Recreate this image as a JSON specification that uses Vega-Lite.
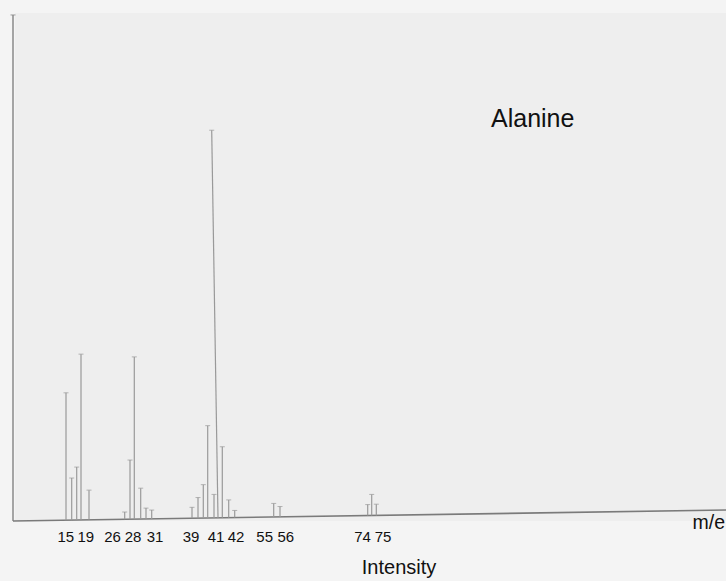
{
  "$schema": "https://vega.github.io/schema/vega-lite/v6.json",
  "autosize": {"type": "none"},
  "padding": {"left": 15, "top": 13, "right": 0, "bottom": 60},
  "width": 711,
  "height": 508,
  "background": "#f4f4f4",
  "config": {"view": {"fill": "#eeeeee", "stroke": null}, "font": "Liberation Sans"},
  "datasets": {
    "peaks": [
      {"pos_top": 51, "pos_base": 51, "top": 32.8, "base": 0.2},
      {"pos_top": 56.7, "pos_base": 56.7, "top": 11.0, "base": 0.22},
      {"pos_top": 61.7, "pos_base": 61.7, "top": 13.8, "base": 0.24},
      {"pos_top": 66, "pos_base": 66, "top": 42.7, "base": 0.26},
      {"pos_top": 74, "pos_base": 74, "top": 7.9, "base": 0.29},
      {"pos_top": 109.7, "pos_base": 109.7, "top": 2.3, "base": 0.43},
      {"pos_top": 115, "pos_base": 115, "top": 15.6, "base": 0.46},
      {"pos_top": 119.3, "pos_base": 119.3, "top": 42.0, "base": 0.47},
      {"pos_top": 125.7, "pos_base": 125.7, "top": 8.4, "base": 0.5},
      {"pos_top": 131, "pos_base": 131, "top": 3.3, "base": 0.52},
      {"pos_top": 136.7, "pos_base": 136.7, "top": 2.8, "base": 0.54},
      {"pos_top": 177, "pos_base": 177, "top": 3.5, "base": 0.7},
      {"pos_top": 183, "pos_base": 183, "top": 6.0, "base": 0.72},
      {"pos_top": 188.3, "pos_base": 188.3, "top": 9.3, "base": 0.75},
      {"pos_top": 192.7, "pos_base": 192.7, "top": 24.4, "base": 0.76},
      {"pos_top": 196.7, "pos_base": 203, "top": 100, "base": 0.8},
      {"pos_top": 199, "pos_base": 199, "top": 6.8, "base": 0.79},
      {"pos_top": 207.3, "pos_base": 207.3, "top": 19.0, "base": 0.82},
      {"pos_top": 213.7, "pos_base": 213.7, "top": 5.4, "base": 0.85},
      {"pos_top": 219.7, "pos_base": 219.7, "top": 2.7, "base": 0.87},
      {"pos_top": 258.7, "pos_base": 258.7, "top": 4.5, "base": 1.02},
      {"pos_top": 265, "pos_base": 265, "top": 3.7, "base": 1.05},
      {"pos_top": 352.7, "pos_base": 352.7, "top": 4.2, "base": 1.4},
      {"pos_top": 356.7, "pos_base": 356.7, "top": 6.8, "base": 1.41},
      {"pos_top": 361.3, "pos_base": 361.3, "top": 4.3, "base": 1.43}
    ],
    "labels": [
      {"pos": 50.8, "label": "15"},
      {"pos": 70.8, "label": "19"},
      {"pos": 97.5, "label": "26"},
      {"pos": 118, "label": "28"},
      {"pos": 140, "label": "31"},
      {"pos": 176, "label": "39"},
      {"pos": 201, "label": "41"},
      {"pos": 221, "label": "42"},
      {"pos": 249.7, "label": "55"},
      {"pos": 270.8, "label": "56"},
      {"pos": 347.5, "label": "74"},
      {"pos": 368, "label": "75"}
    ],
    "baseline": [
      {"pos": -2, "v": 0},
      {"pos": 711, "v": 2.8}
    ],
    "yaxis": [
      {"pos": -2, "v0": 0, "v1": 129.5}
    ],
    "texts": [
      {"pos": 476, "v": 100.9, "text": "Alanine", "kind": "title"}
    ]
  },
  "layer": [
    {
      "data": {"name": "yaxis"},
      "mark": {"type": "rule", "color": "#8a8a8a", "strokeWidth": 1.5},
      "encoding": {
        "x": {"field": "pos", "type": "quantitative", "scale": {"domain": [0, 711], "nice": false, "zero": false}, "axis": null},
        "y": {"field": "v0", "type": "quantitative", "scale": {"domain": [0, 130], "nice": false}, "axis": null},
        "y2": {"field": "v1"}
      }
    },
    {
      "data": {"name": "yaxis"},
      "mark": {"type": "tick", "orient": "horizontal", "color": "#8a8a8a", "size": 5, "thickness": 1.2},
      "encoding": {
        "x": {"field": "pos", "type": "quantitative"},
        "y": {"field": "v1", "type": "quantitative"}
      }
    },
    {
      "data": {"name": "baseline"},
      "mark": {"type": "line", "color": "#7a7a7a", "strokeWidth": 1.6},
      "encoding": {
        "x": {"field": "pos", "type": "quantitative"},
        "y": {"field": "v", "type": "quantitative"}
      }
    },
    {
      "data": {"name": "peaks"},
      "mark": {"type": "rule", "color": "#999999", "strokeWidth": 1.2},
      "encoding": {
        "x": {"field": "pos_top", "type": "quantitative"},
        "x2": {"field": "pos_base"},
        "y": {"field": "top", "type": "quantitative"},
        "y2": {"field": "base"}
      }
    },
    {
      "data": {"name": "peaks"},
      "mark": {"type": "tick", "orient": "horizontal", "color": "#999999", "size": 5, "thickness": 1},
      "encoding": {
        "x": {"field": "pos_top", "type": "quantitative"},
        "y": {"field": "top", "type": "quantitative"}
      }
    },
    {
      "data": {"name": "labels"},
      "mark": {"type": "text", "fontSize": 15, "color": "#111111", "align": "center", "baseline": "alphabetic", "dy": 21},
      "encoding": {
        "x": {"field": "pos", "type": "quantitative"},
        "y": {"datum": 0},
        "text": {"field": "label"}
      }
    },
    {
      "data": {"name": "texts"},
      "mark": {"type": "text", "fontSize": 25, "color": "#111111", "align": "left", "baseline": "alphabetic"},
      "encoding": {
        "x": {"field": "pos", "type": "quantitative"},
        "y": {"field": "v", "type": "quantitative"},
        "text": {"field": "text"}
      }
    },
    {
      "data": {"values": [{"pos": 710, "text": "m/e"}]},
      "mark": {"type": "text", "fontSize": 19.5, "color": "#111111", "align": "right", "baseline": "alphabetic", "dy": 8},
      "encoding": {
        "x": {"field": "pos", "type": "quantitative"},
        "y": {"datum": 0},
        "text": {"field": "text"}
      }
    },
    {
      "data": {"values": [{"pos": 384, "text": "Intensity"}]},
      "mark": {"type": "text", "fontSize": 20, "color": "#111111", "align": "center", "baseline": "alphabetic", "dy": 53},
      "encoding": {
        "x": {"field": "pos", "type": "quantitative"},
        "y": {"datum": 0},
        "text": {"field": "text"}
      }
    }
  ]
}
